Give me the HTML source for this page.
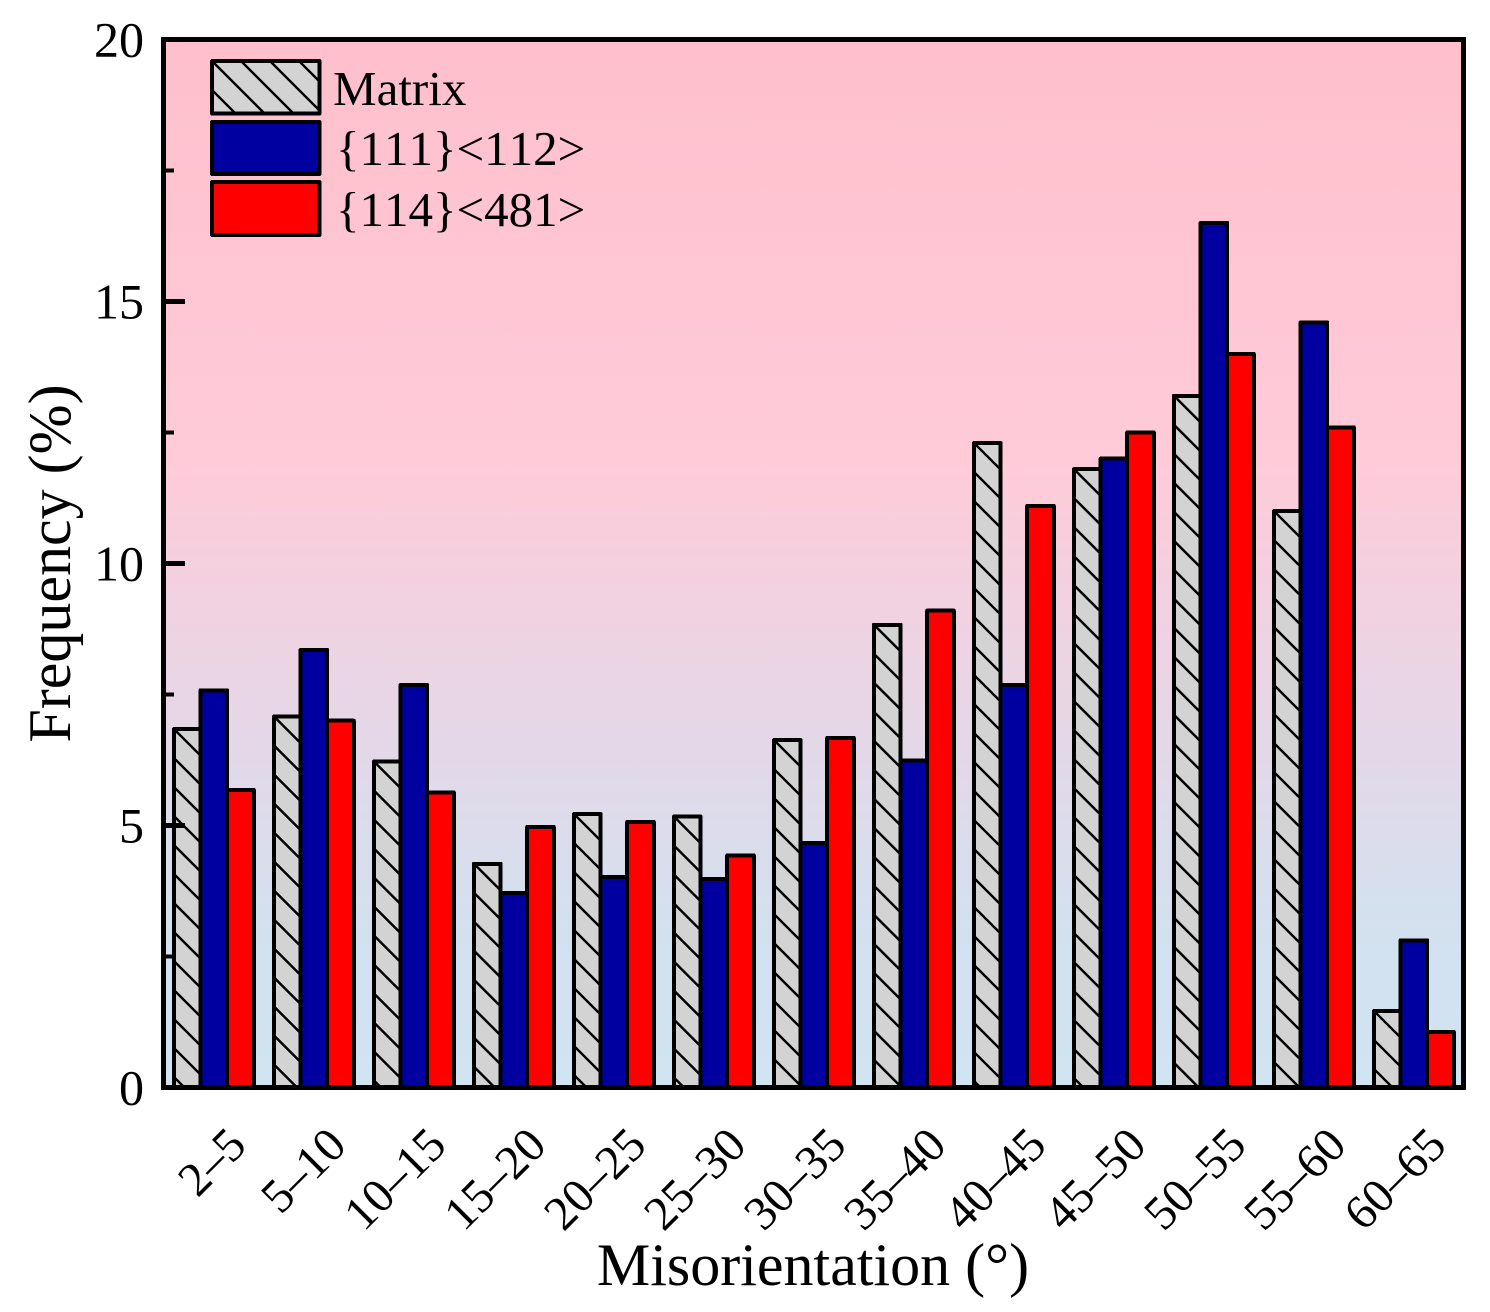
<!DOCTYPE html>
<html lang="en">
<head>
<meta charset="utf-8">
<title>Misorientation frequency chart</title>
<style>
html,body{margin:0;padding:0;background:#fff;}
body{width:1490px;height:1312px;overflow:hidden;}
svg{display:block;}
text{font-family:"Liberation Serif","Times New Roman",serif;fill:#000;font-kerning:none;}
</style>
</head>
<body>
<svg id="chart" width="1490" height="1312" viewBox="0 0 1490 1312" xmlns="http://www.w3.org/2000/svg" shape-rendering="crispEdges">
  <defs id="defs">
    <linearGradient id="bg-gradient" x1="0" y1="0" x2="0" y2="1">
      <stop offset="0" stop-color="#ffbfcc"/>
      <stop offset="0.4" stop-color="#ffcbd9"/>
      <stop offset="0.55" stop-color="#f0d2e1"/>
      <stop offset="0.7" stop-color="#e1d9e9"/>
      <stop offset="0.85" stop-color="#d3e1ef"/>
      <stop offset="1" stop-color="#d0e4f2"/>
    </linearGradient>
  </defs>
  <rect x="163.5" y="39.5" width="1300" height="1048" fill="url(#bg-gradient)"/>
  <g id="bars"></g>
  <g id="y-axis"></g>
  <g id="x-axis"></g>
  <rect x="163.5" y="39.5" width="1300" height="1048" fill="none" stroke="#000" stroke-width="5"/>
  <text x="813" y="1285" font-size="60" text-anchor="middle">Misorientation (°)</text>
  <text transform="translate(70,563.5) rotate(-90)" font-size="60" text-anchor="middle">Frequency (%)</text>
  <g id="legend"></g>
</svg>
<script>
const categories = ["2–5","5–10","10–15","15–20","20–25","25–30","30–35","35–40","40–45","45–50","50–55","55–60","60–65"];
const matrixValues = [6.84,7.08,6.22,4.27,5.22,5.17,6.63,8.83,12.3,11.8,13.2,11,1.46];
const s111Values = [7.58,8.35,7.68,3.71,4.02,3.98,4.67,6.24,7.68,12,16.5,14.6,2.81];
const s114Values = [5.68,7,5.63,4.97,5.07,4.43,6.67,9.1,11.1,12.5,14,12.6,1.06];
const majorTicks = [0,5,10,15,20];
const minorTicks = [2.5,7.5,12.5,17.5];
const seriesNames = ["Matrix","{111}<112>","{114}<481>"];

const NS = "http://www.w3.org/2000/svg";
const PLOT = {left:163.5, right:1463.5, top:39.5, bottom:1087.5};
const Y_MAX = 20;
const GROUP_START = 174, GROUP_STEP = 100, BAR_W = 26.6;

function yScale(v){ return PLOT.bottom - (v / Y_MAX) * (PLOT.bottom - PLOT.top); }
function xScale(groupIndex, seriesIndex){ return GROUP_START + groupIndex * GROUP_STEP + seriesIndex * BAR_W; }

function make(tag, attrs, parent){
  const el = document.createElementNS(NS, tag);
  for (const k in attrs) el.setAttribute(k, attrs[k]);
  if (parent) parent.appendChild(el);
  return el;
}

const defs = document.getElementById("defs");
function hatch(id, x, y){
  const p = make("pattern", {id:id, patternUnits:"userSpaceOnUse", width:29, height:29,
    patternTransform:"translate(" + x + "," + y + ")"}, defs);
  make("rect", {x:0, y:0, width:29, height:29, fill:"#d3d3d3"}, p);
  make("path", {d:"M-5,-5L34,34M-34,-5L5,34M24,-5L63,34", stroke:"#000", "stroke-width":2.8, fill:"none"}, p);
}

const barsG = document.getElementById("bars");
const seriesData = [matrixValues, s111Values, s114Values];
const seriesFill = ["hatch", "#0000a0", "#ff0000"];
const seriesKey = ["matrix", "111-112", "114-481"];
categories.forEach(function(cat, i){
  seriesData.forEach(function(vals, s){
    const x = xScale(i, s), y = yScale(vals[i]);
    let fill = seriesFill[s];
    if (fill === "hatch") {
      const id = "hatch-" + i;
      hatch(id, x, y);
      fill = "url(#" + id + ")";
    }
    const r = make("rect", {x:x, y:y, width:BAR_W, height:PLOT.bottom - y, fill:fill, stroke:"#000", "stroke-width":4, "stroke-linejoin":"round"}, barsG);
    
    
    r.setAttribute('data-series', seriesKey[s]);
    r.setAttribute('data-category', cat);
  });
});

const yG = document.getElementById("y-axis");
majorTicks.forEach(function(v){
  const y = yScale(v);
  const t = make("line", {x1:PLOT.left, x2:185, y1:y, y2:y, stroke:"#000", "stroke-width":5}, yG);
  
  
  const l = make("text", {x:144, y:y + 17, "font-size":50, "text-anchor":"end"}, yG);
  l.textContent = String(v);
  
  
});
minorTicks.forEach(function(v){
  const y = yScale(v);
  const t = make("line", {x1:PLOT.left, x2:174, y1:y, y2:y, stroke:"#000", "stroke-width":4}, yG);
  
  
});

const xG = document.getElementById("x-axis");
categories.forEach(function(cat, i){
  const cx = xScale(i, 1) + BAR_W / 2;
  const ax = cx + 12, ay = 1125;
  const l = make("text", {"font-size":48, "text-anchor":"end", transform:"translate(" + ax + "," + ay + ") rotate(-45) translate(0,32)"}, xG);
  l.textContent = cat;
  
  
});

const legendG = document.getElementById("legend");
const legendRows = [
  {y:61, h:52.5, fill:"hatch", tx:333, ty:105},
  {y:122, h:52, fill:"#0000a0", tx:336, ty:165},
  {y:182, h:53, fill:"#ff0000", tx:336, ty:226}
];
legendRows.forEach(function(row, i){
  let fill = row.fill;
  if (fill === "hatch") {
    hatch("hatch-legend", 212, row.y);
    fill = "url(#hatch-legend)";
  }
  const sw = make("rect", {x:212, y:row.y, width:107.5, height:row.h, fill:fill, stroke:"#000", "stroke-width":4, "stroke-linejoin":"round"}, legendG);
  
  
  const t = make("text", {x:row.tx, y:row.ty, "font-size":49}, legendG);
  t.textContent = seriesNames[i];
  
  
});
</script>
</body>
</html>
